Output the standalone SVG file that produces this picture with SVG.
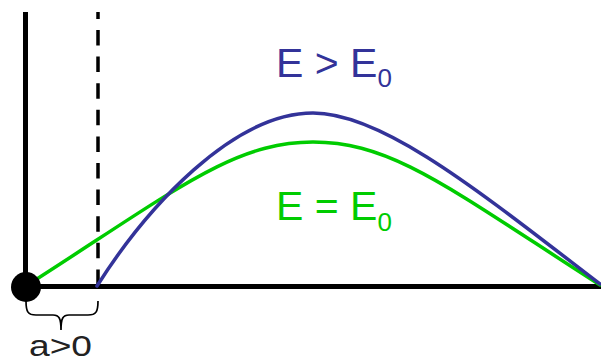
<svg xmlns="http://www.w3.org/2000/svg" width="601" height="361" viewBox="0 0 601 361">
  <style>
    .axis { stroke: #000; stroke-width: 5; fill: none; }
    .dash { stroke: #000; stroke-width: 3.5; fill: none; stroke-dasharray: 15.5 11.1; stroke-dashoffset: 8.6; }
    .curve { fill: none; stroke-width: 3.5; stroke-linecap: round; }
    .blue { stroke: #333399; }
    .green { stroke: #00CC00; }
    .lbl { font-family: "Liberation Sans", Arial, sans-serif; }
  </style>
  <rect width="601" height="361" fill="#fff"/>
  <g id="axes">
    <line class="axis" x1="25.5" y1="12" x2="25.5" y2="287"/>
    <line class="axis" x1="26" y1="286.5" x2="601" y2="286.5"/>
    <line class="dash" x1="98" y1="12" x2="98" y2="285"/>
  </g>
  <g id="connectors">
    <path id="curve-E0" class="curve green" d="M26,286 C176,190 233,142 313,142 C393,142 450,189 600,285"/>
    <path id="curve-Egt" class="curve blue" d="M97,286 C147,207 233,113 313,113 C383,113 480,192 600,284"/>
  </g>
  <g id="origin">
    <circle cx="26" cy="287" r="15" fill="#000"/>
  </g>
  <g id="label-Egt">
    <text class="lbl" x="276" y="77" font-size="41" fill="#333399">E &gt; E<tspan font-size="26" y="87">0</tspan></text>
  </g>
  <g id="label-E0">
    <text class="lbl" x="276" y="220" font-size="41" fill="#00CC00">E = E<tspan font-size="26" y="231">0</tspan></text>
  </g>
  <g id="brace">
    <path d="M26,301 C26,312 28,315 36,315 L53,315 C59,315 61,318 61,330 C61,318 63,315 69,315 L88,315 C96,315 98,312 98,301" fill="none" stroke="#000" stroke-width="1.7"/>
    <text class="lbl" x="29" y="356" font-size="30" textLength="63" lengthAdjust="spacingAndGlyphs" fill="#222">a&gt;0</text>
  </g>
</svg>
